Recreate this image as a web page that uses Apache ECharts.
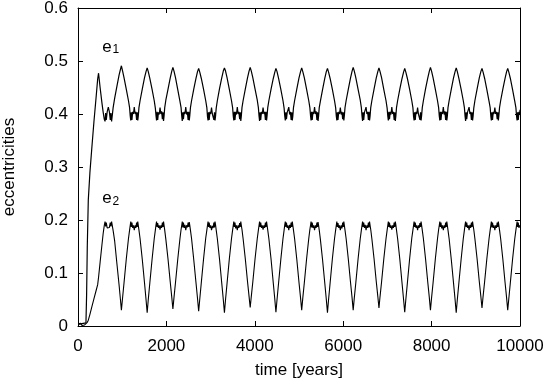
<!DOCTYPE html>
<html>
<head>
<meta charset="utf-8">
<script src="https://cdn.jsdelivr.net/npm/echarts@6/dist/echarts.min.js"></script>
<style>
html,body{margin:0;padding:0;background:#fff;}
#chart{width:546px;height:380px;}
</style>
</head>
<body>
<div id="chart"></div>
<script>
// time in years (shared by both series)
const years = [
 0,30,60,90,120,150,180,195,210,233,270,310,360,410,445,465,500,540,570,595,612,625,640,660,686,710,730,745,760,775,795,830,880,930,960,
 982,1007,1042,1092,1142,1167,1182,1194,1206,1220,1237,1254,1273,1292,1309,1326,1340,1352,1364,1379,1404,1454,1504,1539,
 1565,1590,1625,1675,1725,1750,1765,1777,1789,1803,1820,1837,1856,1875,1892,1909,1923,1935,1947,1962,1987,2037,2087,2122,
 2147,2172,2207,2257,2307,2332,2347,2359,2371,2385,2402,2419,2438,2457,2474,2491,2505,2517,2529,2544,2569,2619,2669,2704,
 2730,2755,2790,2840,2890,2915,2930,2942,2954,2968,2985,3002,3021,3040,3057,3074,3088,3100,3112,3127,3152,3202,3252,3287,
 3313,3338,3373,3423,3473,3498,3513,3525,3537,3551,3568,3585,3604,3623,3640,3657,3671,3683,3695,3710,3735,3785,3835,3870,
 3896,3921,3956,4006,4056,4081,4096,4108,4120,4134,4151,4168,4187,4206,4223,4240,4254,4266,4278,4293,4318,4368,4418,4453,
 4478,4503,4538,4588,4638,4663,4678,4690,4702,4716,4733,4750,4769,4788,4805,4822,4836,4848,4860,4875,4900,4950,5000,5035,
 5061,5086,5121,5171,5221,5246,5261,5273,5285,5299,5316,5333,5352,5371,5388,5405,5419,5431,5443,5458,5483,5533,5583,5618,
 5644,5669,5704,5754,5804,5829,5844,5856,5868,5882,5899,5916,5935,5954,5971,5988,6002,6014,6026,6041,6066,6116,6166,6201,
 6226,6251,6286,6336,6386,6411,6426,6438,6450,6464,6481,6498,6517,6536,6553,6570,6584,6596,6608,6623,6648,6698,6748,6783,
 6809,6834,6869,6919,6969,6994,7009,7021,7033,7047,7064,7081,7100,7119,7136,7153,7167,7179,7191,7206,7231,7281,7331,7366,
 7392,7417,7452,7502,7552,7577,7592,7604,7616,7630,7647,7664,7683,7702,7719,7736,7750,7762,7774,7789,7814,7864,7914,7949,
 7974,7999,8034,8084,8134,8159,8174,8186,8198,8212,8229,8246,8265,8284,8301,8318,8332,8344,8356,8371,8396,8446,8496,8531,
 8557,8582,8617,8667,8717,8742,8757,8769,8781,8795,8812,8829,8848,8867,8884,8901,8915,8927,8939,8954,8979,9029,9079,9114,
 9140,9165,9200,9250,9300,9325,9340,9352,9364,9378,9395,9412,9431,9450,9467,9484,9498,9510,9522,9537,9562,9612,9662,9697,
 9722,9747,9782,9832,9882,9907,9922,9934,9946,9960,9977,9994,10000
];

// eccentricity of planet 1
const e1 = [
 0.003,0.001,0.004,0.002,0.005,0.002,0.006,0.060,0.150,0.238,0.290,0.333,0.385,0.432,0.466,0.477,0.450,0.422,0.403,0.390,0.386,0.402,0.389,0.404,0.413,0.404,0.389,0.402,0.386,0.397,0.412,0.430,0.452,0.474,0.484,
 0.491,0.482,0.468,0.447,0.425,0.412,0.396,0.388,0.403,0.389,0.404,0.400,0.413,0.400,0.404,0.389,0.403,0.388,0.396,0.412,0.425,0.447,0.468,0.480,
 0.487,0.480,0.467,0.447,0.425,0.411,0.397,0.388,0.404,0.389,0.403,0.399,0.412,0.400,0.405,0.390,0.403,0.387,0.396,0.412,0.426,0.447,0.468,0.481,
 0.488,0.481,0.468,0.446,0.424,0.412,0.396,0.387,0.403,0.390,0.404,0.400,0.413,0.399,0.404,0.389,0.404,0.388,0.397,0.412,0.425,0.447,0.467,0.480,
 0.486,0.479,0.467,0.447,0.425,0.412,0.395,0.388,0.403,0.389,0.404,0.400,0.412,0.400,0.403,0.389,0.403,0.388,0.396,0.411,0.425,0.448,0.468,0.481,
 0.487,0.481,0.468,0.447,0.425,0.412,0.396,0.388,0.404,0.389,0.404,0.399,0.413,0.400,0.404,0.390,0.403,0.387,0.396,0.412,0.425,0.447,0.468,0.481,
 0.488,0.481,0.468,0.447,0.426,0.412,0.396,0.387,0.403,0.389,0.404,0.400,0.412,0.400,0.404,0.389,0.404,0.388,0.397,0.412,0.425,0.447,0.467,0.479,
 0.486,0.480,0.467,0.447,0.425,0.411,0.396,0.388,0.403,0.390,0.403,0.400,0.413,0.399,0.404,0.389,0.403,0.388,0.396,0.412,0.425,0.447,0.468,0.480,
 0.487,0.480,0.468,0.447,0.425,0.412,0.397,0.388,0.404,0.389,0.404,0.400,0.413,0.400,0.405,0.389,0.403,0.387,0.396,0.412,0.424,0.446,0.467,0.480,
 0.486,0.479,0.467,0.447,0.425,0.412,0.396,0.388,0.403,0.389,0.404,0.400,0.412,0.399,0.404,0.390,0.403,0.388,0.397,0.412,0.425,0.447,0.468,0.481,
 0.488,0.481,0.468,0.447,0.426,0.412,0.396,0.387,0.403,0.389,0.403,0.400,0.413,0.400,0.404,0.389,0.404,0.388,0.396,0.412,0.425,0.447,0.468,0.480,
 0.487,0.480,0.468,0.446,0.425,0.411,0.396,0.388,0.404,0.390,0.404,0.399,0.413,0.400,0.404,0.389,0.403,0.387,0.396,0.412,0.425,0.447,0.467,0.479,
 0.486,0.479,0.467,0.447,0.425,0.412,0.395,0.388,0.403,0.389,0.404,0.400,0.412,0.400,0.403,0.389,0.403,0.388,0.397,0.412,0.425,0.448,0.468,0.481,
 0.488,0.481,0.468,0.447,0.425,0.412,0.396,0.388,0.404,0.389,0.404,0.400,0.413,0.399,0.405,0.389,0.404,0.388,0.396,0.412,0.425,0.447,0.468,0.480,
 0.487,0.480,0.467,0.447,0.425,0.412,0.396,0.387,0.403,0.390,0.403,0.400,0.413,0.400,0.404,0.389,0.403,0.388,0.396,0.411,0.425,0.447,0.468,0.480,
 0.486,0.479,0.467,0.446,0.424,0.412,0.396,0.388,0.403,0.389,0.404,0.400,0.412,0.400,0.404,0.390,0.403,0.388,0.397,0.412,0.425,0.447,0.467,0.480,
 0.486,0.479,0.467,0.446,0.424,0.412,0.396,0.388,0.403,0.389,0.404,0.400,0.408
];

// eccentricity of planet 2
const e2 = [
 0.004,0.002,0.005,0.001,0.004,0.002,0.003,0.005,0.007,0.011,0.022,0.035,0.051,0.067,0.078,0.092,0.120,0.152,0.175,0.190,0.197,0.188,0.195,0.185,0.182,0.186,0.195,0.188,0.197,0.190,0.180,0.160,0.118,0.077,0.050,
 0.030,0.052,0.082,0.126,0.165,0.181,0.190,0.197,0.187,0.195,0.185,0.190,0.181,0.190,0.185,0.195,0.187,0.197,0.190,0.181,0.165,0.126,0.082,0.050,
 0.025,0.050,0.081,0.125,0.165,0.181,0.191,0.197,0.187,0.194,0.185,0.190,0.182,0.190,0.185,0.195,0.187,0.197,0.190,0.181,0.164,0.126,0.083,0.054,
 0.032,0.054,0.083,0.126,0.165,0.182,0.190,0.197,0.186,0.195,0.185,0.191,0.181,0.190,0.186,0.195,0.187,0.196,0.190,0.181,0.165,0.125,0.082,0.052,
 0.028,0.051,0.082,0.126,0.166,0.181,0.190,0.197,0.187,0.195,0.185,0.190,0.181,0.189,0.185,0.195,0.186,0.197,0.191,0.181,0.165,0.126,0.081,0.050,
 0.025,0.050,0.081,0.126,0.165,0.181,0.190,0.197,0.187,0.195,0.184,0.190,0.181,0.190,0.185,0.194,0.187,0.197,0.190,0.182,0.165,0.127,0.084,0.056,
 0.035,0.056,0.084,0.127,0.165,0.181,0.190,0.197,0.187,0.195,0.185,0.190,0.182,0.190,0.185,0.195,0.187,0.197,0.190,0.181,0.165,0.126,0.081,0.050,
 0.026,0.050,0.081,0.125,0.165,0.181,0.191,0.197,0.187,0.195,0.185,0.190,0.181,0.191,0.185,0.195,0.187,0.197,0.190,0.181,0.165,0.126,0.082,0.053,
 0.030,0.053,0.082,0.126,0.165,0.182,0.190,0.197,0.186,0.195,0.185,0.190,0.181,0.190,0.185,0.195,0.187,0.196,0.190,0.181,0.164,0.125,0.081,0.050,
 0.025,0.050,0.081,0.126,0.165,0.181,0.190,0.197,0.187,0.194,0.185,0.190,0.181,0.190,0.184,0.195,0.187,0.197,0.190,0.181,0.165,0.126,0.082,0.053,
 0.030,0.053,0.082,0.126,0.165,0.181,0.190,0.197,0.187,0.195,0.185,0.191,0.181,0.190,0.185,0.195,0.186,0.197,0.190,0.182,0.165,0.127,0.084,0.056,
 0.034,0.056,0.084,0.127,0.165,0.181,0.190,0.197,0.187,0.195,0.185,0.190,0.182,0.190,0.185,0.195,0.187,0.197,0.191,0.181,0.165,0.126,0.081,0.050,
 0.026,0.050,0.081,0.126,0.166,0.181,0.190,0.197,0.187,0.195,0.185,0.190,0.181,0.190,0.185,0.194,0.187,0.197,0.190,0.181,0.165,0.126,0.082,0.053,
 0.030,0.053,0.082,0.126,0.165,0.182,0.190,0.197,0.187,0.195,0.184,0.190,0.181,0.190,0.185,0.195,0.187,0.197,0.190,0.181,0.165,0.125,0.081,0.050,
 0.025,0.050,0.081,0.125,0.165,0.181,0.191,0.197,0.187,0.195,0.185,0.190,0.181,0.191,0.185,0.195,0.187,0.197,0.190,0.182,0.165,0.127,0.084,0.056,
 0.034,0.056,0.084,0.127,0.165,0.181,0.190,0.197,0.186,0.195,0.185,0.190,0.181,0.190,0.185,0.195,0.187,0.197,0.190,0.181,0.165,0.126,0.082,0.053,
 0.030,0.052,0.082,0.126,0.165,0.181,0.190,0.197,0.187,0.195,0.185,0.190,0.188
];

const xTicks = { min: 0, max: 10000, step: 2000 };
const yTicks = { min: 0, max: 0.6, step: 0.1 };
const xTitle = 'time [years]';
const yTitle = 'eccentricities';
const labelPos = { e1: [740, 0.526], e2: [740, 0.240] };

const FONT = '"Liberation Sans", Helvetica, Arial, sans-serif';
const chart = echarts.init(document.getElementById('chart'), null, { renderer: 'canvas' });

const axisBase = {
  axisLine: { show: true, onZero: false, lineStyle: { color: '#000', width: 1 } },
  axisTick: { show: true, inside: true, length: 5, lineStyle: { color: '#000', width: 1 } },
  splitLine: { show: false }
};

function pairs(vals) { return years.map((t, i) => [t, vals[i]]); }

function subLabel(sub, pos) {
  return {
    symbol: 'circle', symbolSize: 1,
    itemStyle: { color: 'rgba(0,0,0,0)' },
    label: {
      show: true, position: 'inside',
      formatter: '{a|e}{b|' + sub + '}',
      rich: {
        a: { fontSize: 17, fontFamily: FONT, color: '#000', lineHeight: 17, verticalAlign: 'top' },
        b: { fontSize: 12, fontFamily: FONT, color: '#000', lineHeight: 12, verticalAlign: 'bottom', padding: [10, 0, 0, 1] }
      }
    },
    data: [{ coord: pos }],
    silent: true, animation: false
  };
}

chart.setOption({
  backgroundColor: '#fff',
  animation: false,
  grid: { left: 78, right: 26, top: 8, bottom: 54, containLabel: false, outerBoundsMode: 'none' },
  xAxis: [
    Object.assign({}, axisBase, {
      type: 'value', position: 'bottom', min: xTicks.min, max: xTicks.max, interval: xTicks.step,
      name: xTitle, nameLocation: 'middle', nameGap: 36,
      nameTextStyle: { fontSize: 17, fontFamily: FONT, color: '#000' },
      axisLabel: { fontSize: 17, fontFamily: FONT, color: '#000', margin: 12, formatter: v => String(v) }
    }),
    Object.assign({}, axisBase, {
      type: 'value', position: 'top', min: xTicks.min, max: xTicks.max, interval: xTicks.step,
      axisLabel: { show: false }
    })
  ],
  yAxis: [
    Object.assign({}, axisBase, {
      type: 'value', position: 'left', min: yTicks.min, max: yTicks.max, interval: yTicks.step,
      name: yTitle, nameLocation: 'middle', nameGap: 60, nameRotate: 90,
      nameTextStyle: { fontSize: 17, fontFamily: FONT, color: '#000' },
      axisLabel: { fontSize: 17, fontFamily: FONT, color: '#000', margin: 10 }
    }),
    Object.assign({}, axisBase, {
      type: 'value', position: 'right', min: yTicks.min, max: yTicks.max, interval: yTicks.step,
      axisLabel: { show: false }
    })
  ],
  series: [
    {
      name: 'e1', type: 'line', data: pairs(e1), xAxisIndex: 0, yAxisIndex: 0,
      showSymbol: false, symbol: 'none', sampling: false,
      lineStyle: { color: '#000', width: 1.2 },
      markPoint: subLabel('1', labelPos.e1)
    },
    {
      name: 'e2', type: 'line', data: pairs(e2), xAxisIndex: 0, yAxisIndex: 0,
      showSymbol: false, symbol: 'none', sampling: false,
      lineStyle: { color: '#000', width: 1.1 },
      markPoint: subLabel('2', labelPos.e2)
    }
  ]
});
</script>
</body>
</html>
